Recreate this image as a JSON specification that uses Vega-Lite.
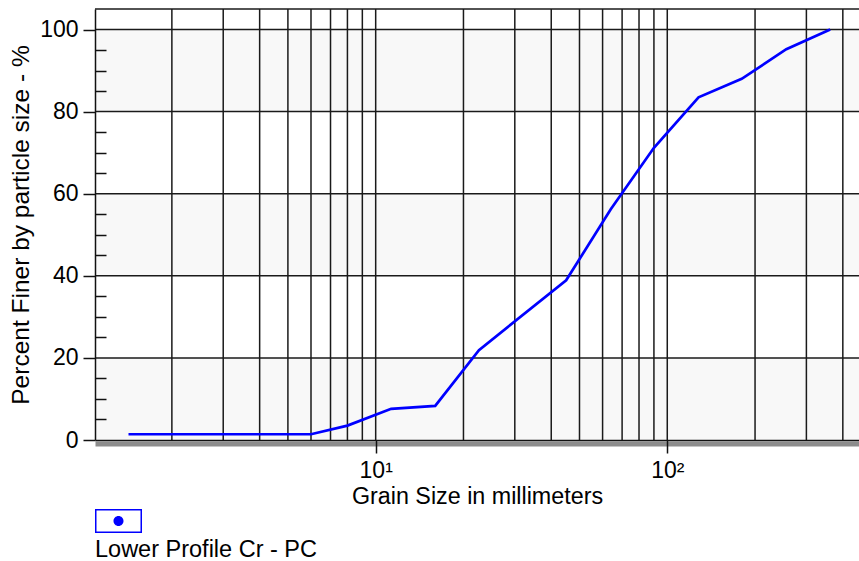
{
  "$schema": "https://vega.github.io/schema/vega-lite/v6.json",
  "width": 764,
  "height": 431,
  "autosize": "none",
  "padding": {"left": 95, "top": 9, "right": 0, "bottom": 121},
  "background": "white",
  "config": {
    "font": "Liberation Sans",
    "view": {"stroke": null},
    "axis": {"labelColor": "#000", "titleColor": "#000", "labelFont": "Liberation Sans", "titleFont": "Liberation Sans"}
  },
  "datasets": {
    "curve": [
      {"size": 1.42, "pct": 1.4, "series": "Lower Profile Cr - PC"},
      {"size": 6.0, "pct": 1.4, "series": "Lower Profile Cr - PC"},
      {"size": 8.0, "pct": 3.5, "series": "Lower Profile Cr - PC"},
      {"size": 11.3, "pct": 7.6, "series": "Lower Profile Cr - PC"},
      {"size": 16.0, "pct": 8.3, "series": "Lower Profile Cr - PC"},
      {"size": 22.6, "pct": 21.9, "series": "Lower Profile Cr - PC"},
      {"size": 45.0, "pct": 38.9, "series": "Lower Profile Cr - PC"},
      {"size": 64.0, "pct": 56.2, "series": "Lower Profile Cr - PC"},
      {"size": 90.0, "pct": 71.2, "series": "Lower Profile Cr - PC"},
      {"size": 128.0, "pct": 83.5, "series": "Lower Profile Cr - PC"},
      {"size": 180.0, "pct": 88.0, "series": "Lower Profile Cr - PC"},
      {"size": 256.0, "pct": 95.2, "series": "Lower Profile Cr - PC"},
      {"size": 362.0, "pct": 100.0, "series": "Lower Profile Cr - PC"}
    ],
    "bands": [
      {"lo": 0, "hi": 20},
      {"lo": 40, "hi": 60},
      {"lo": 80, "hi": 100}
    ],
    "gridy": [{"v": 20}, {"v": 40}, {"v": 60}, {"v": 80}, {"v": 100}, {"v": 105}],
    "gridx": [
      {"v": 2}, {"v": 3}, {"v": 4}, {"v": 5}, {"v": 6}, {"v": 7}, {"v": 8}, {"v": 9},
      {"v": 10}, {"v": 20}, {"v": 30}, {"v": 40}, {"v": 50}, {"v": 60}, {"v": 70}, {"v": 80}, {"v": 90},
      {"v": 100}, {"v": 200}, {"v": 300}, {"v": 400}
    ]
  },
  "resolve": {"axis": {"x": "independent", "y": "independent"}},
  "layer": [
    {
      "data": {"name": "bands"},
      "mark": {"type": "rect", "color": "#f8f8f8"},
      "encoding": {
        "y": {
          "field": "lo", "type": "quantitative",
          "scale": {"domain": [0, 105], "nice": false, "zero": false},
          "axis": {
            "orient": "left", "values": [0, 20, 40, 60, 80, 100], "grid": false,
            "tickSize": 12, "tickColor": "#111", "tickWidth": 1.5,
            "domainColor": "#111", "domainWidth": 1.5,
            "labelFontSize": 23, "labelPadding": 5,
            "title": "Percent Finer by particle size - %", "titleFontSize": 24.5, "titleFontWeight": "normal", "titlePadding": 6,
            "zindex": 1
          }
        },
        "y2": {"field": "hi"}
      }
    },
    {
      "data": {"name": "gridy"},
      "mark": {"type": "rule", "color": "#1a1a1a", "strokeWidth": 1.5},
      "encoding": {
        "y": {"field": "v", "type": "quantitative", "scale": {"domain": [0, 105], "nice": false, "zero": false}, "axis": null}
      }
    },
    {
      "data": {"name": "gridx"},
      "mark": {"type": "rule", "color": "#1a1a1a", "strokeWidth": 1.5},
      "encoding": {
        "x": {
          "field": "v", "type": "quantitative",
          "scale": {"type": "log", "domain": [1.0899, 454.5], "nice": false},
          "axis": {
            "orient": "bottom", "values": [10, 100], "grid": false,
            "labelExpr": "datum.value == 10 ? '10¹' : (datum.value == 100 ? '10²' : '')",
            "tickSize": 13, "tickColor": "#111", "tickWidth": 1.5,
            "domainColor": "#111", "domainWidth": 1.5,
            "labelFontSize": 23, "labelPadding": 6, "labelFlush": false,
            "title": "Grain Size in millimeters", "titleFontSize": 23.3, "titleFontWeight": "normal", "titlePadding": 3,
            "zindex": 1
          }
        }
      }
    },
    {
      "data": {"name": "curve"},
      "mark": {"type": "line", "strokeWidth": 2.7},
      "encoding": {
        "x": {
          "field": "size", "type": "quantitative",
          "scale": {"type": "log", "domain": [1.0899, 454.5], "nice": false},
          "axis": {
            "orient": "bottom", "domainColor": "#8c8c8c", "domainWidth": 5, "offset": 3.5,
            "ticks": false, "labels": false, "grid": false, "title": null, "zindex": 0
          }
        },
        "y": {
          "field": "pct", "type": "quantitative",
          "scale": {"domain": [0, 105], "nice": false, "zero": false},
          "axis": {
            "orient": "left", "values": [5, 10, 15, 25, 30, 35, 45, 50, 55, 65, 70, 75, 85, 90, 95],
            "tickSize": -11, "tickColor": "#111", "tickWidth": 1.5,
            "labels": false, "domain": false, "grid": false, "title": null, "zindex": 1
          }
        },
        "color": {
          "field": "series", "type": "nominal",
          "scale": {"range": ["#0000ff"]},
          "legend": {
            "orient": "none", "legendX": 0, "legendY": 488.5, "padding": 0,
            "title": "Lower Profile Cr - PC", "titleOrient": "bottom", "titleAnchor": "start",
            "titlePadding": 4, "titleFontSize": 23.5, "titleFontWeight": "normal", "titleColor": "#000",
            "titleLimit": 500, "titleFont": "Liberation Sans",
            "labelExpr": "''",
            "symbolType": "M-1,-0.511L1,-0.511L1,0.511L-1,0.511ZM-0.936,-0.447L-0.936,0.447L0.936,0.447L0.936,-0.447ZM0.213,0A0.213,0.213,0,1,1,-0.213,0A0.213,0.213,0,1,1,0.213,0Z",
            "symbolSize": 2209, "symbolStrokeWidth": 0, "symbolFillColor": "#0000ff",
            "encode": {"symbols": {"update": {"fill": {"value": "#0000ff"}, "stroke": {"value": "transparent"}, "strokeWidth": {"value": 0}, "opacity": {"value": 1}}}}
          }
        }
      }
    }
  ]
}
